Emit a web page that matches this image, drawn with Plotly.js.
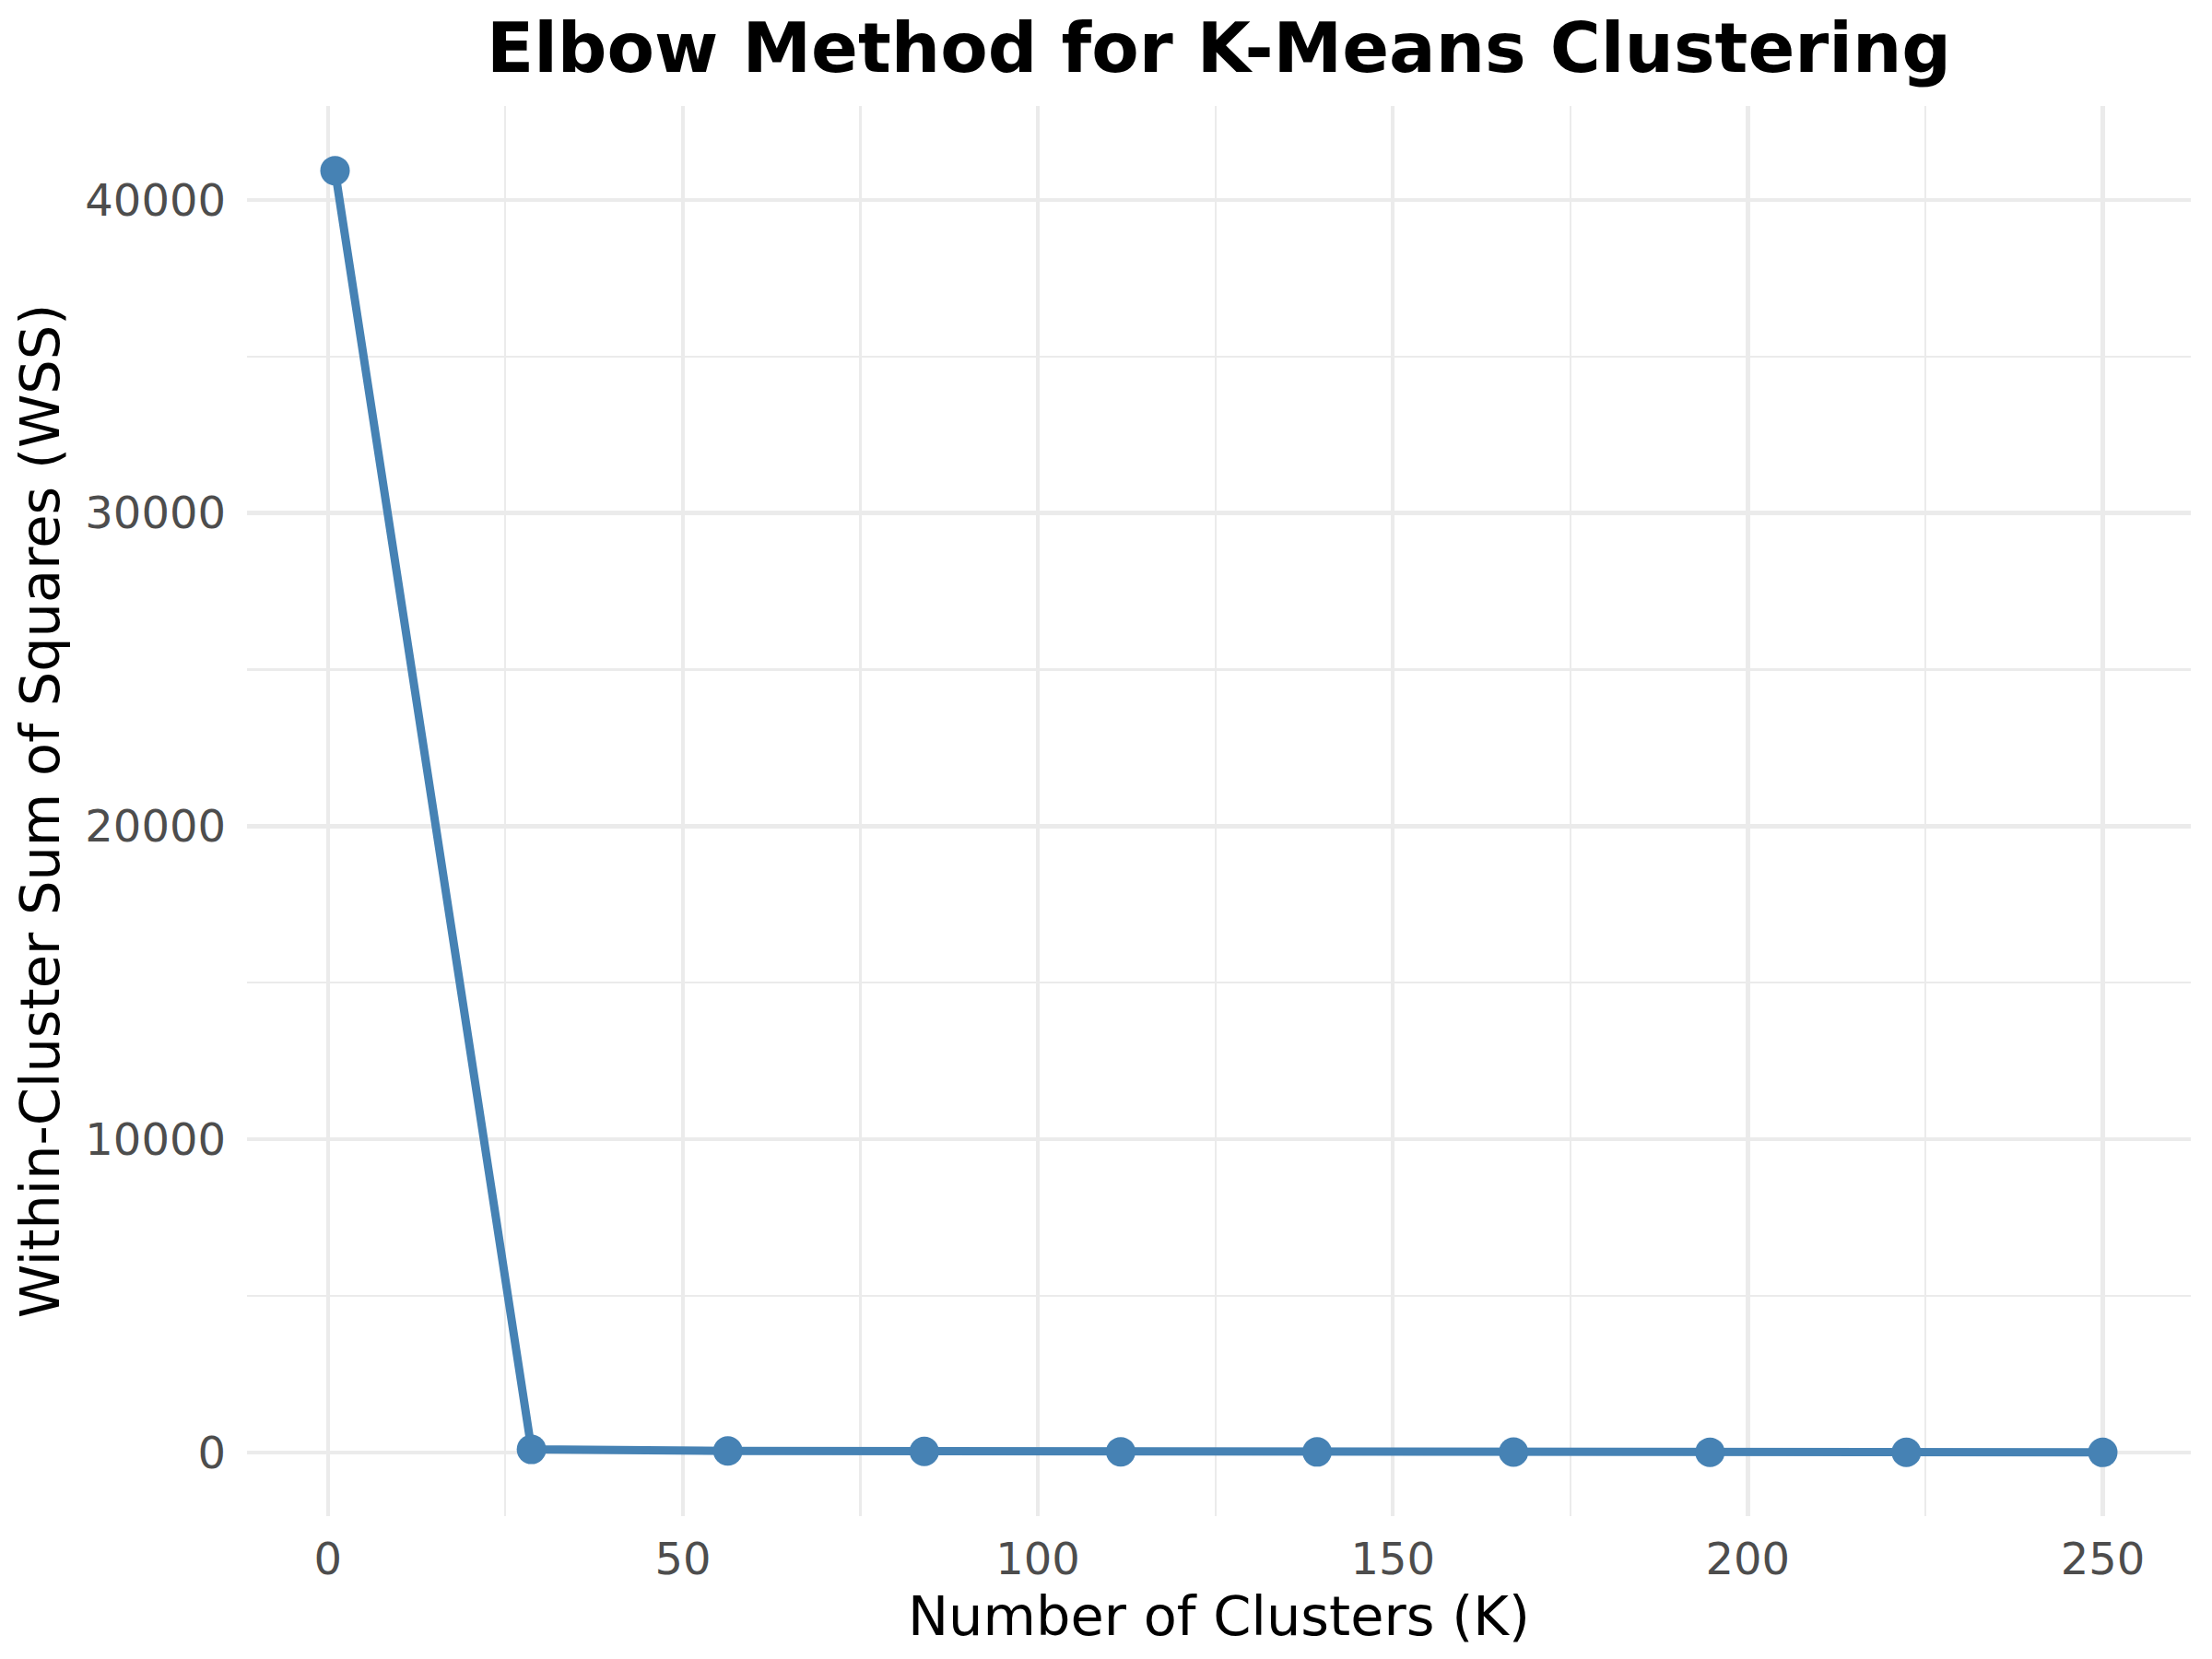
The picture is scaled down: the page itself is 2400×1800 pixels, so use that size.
<!DOCTYPE html>
<html>
<head>
<meta charset="utf-8">
<script src="https://cdn.plot.ly/plotly-3.0.1.min.js"></script>
<style>html,body{margin:0;padding:0;background:#fff;}#chart{width:2400px;height:1800px;}</style>
</head>
<body>
<div id="chart"></div>
<script>
// Data
const clusters = [1, 28.67, 56.33, 84, 111.67, 139.33, 167, 194.67, 222.33, 250];
const wss = [40930, 100, 50, 35, 25, 18, 13, 10, 7, 5];
const xTickVals = [0, 50, 100, 150, 200, 250];
const yTickVals = [0, 10000, 20000, 30000, 40000];

const font = 'DejaVu Sans, sans-serif';
const trace = {
  x: clusters,
  y: wss,
  type: 'scatter',
  mode: 'lines+markers',
  line: {color: '#4682B4', width: 9},
  marker: {color: '#4682B4', size: 32},
  hoverinfo: 'skip'
};

const layout = {
  width: 2400,
  height: 1800,
  paper_bgcolor: '#ffffff',
  plot_bgcolor: '#ffffff',
  margin: {l: 268, r: 23, t: 115, b: 155, pad: 0},
  showlegend: false,
  font: {family: font, color: '#000000'},
  title: {
    text: '<b>Elbow Method for K-Means Clustering</b>',
    font: {family: font, size: 75, color: '#000000'},
    x: 0.5, xref: 'paper', xanchor: 'center',
    y: 1 - 52/1800, yref: 'container', yanchor: 'middle'
  },
  xaxis: {
    range: [-11.4, 262.4],
    tickvals: xTickVals,
    ticktext: xTickVals.map(String),
    showgrid: true,
    gridcolor: '#EBEBEB',
    gridwidth: 4.5,
    minor: {dtick: 25, tick0: 0, showgrid: true, gridcolor: '#EBEBEB', gridwidth: 2.2},
    zeroline: false,
    showline: false,
    ticks: '',
    ticklabelstandoff: 14,
    tickfont: {family: font, size: 48, color: '#4D4D4D'},
    title: {text: 'Number of Clusters (K)', font: {family: font, size: 59, color: '#000000'}, standoff: 6}
  },
  yaxis: {
    range: [-2031, 42995],
    tickvals: yTickVals,
    ticktext: yTickVals.map(String),
    showgrid: true,
    gridcolor: '#EBEBEB',
    gridwidth: 4.5,
    minor: {dtick: 5000, tick0: 0, showgrid: true, gridcolor: '#EBEBEB', gridwidth: 2.2},
    zeroline: false,
    showline: false,
    ticks: '',
    ticklabelstandoff: 22,
    tickfont: {family: font, size: 48, color: '#4D4D4D'},
    title: {text: 'Within-Cluster Sum of Squares (WSS)', font: {family: font, size: 59, color: '#000000'}, standoff: 8}
  },
  hovermode: false
};

Plotly.newPlot('chart', [trace], layout, {displayModeBar: false, staticPlot: true});
</script>
</body>
</html>
